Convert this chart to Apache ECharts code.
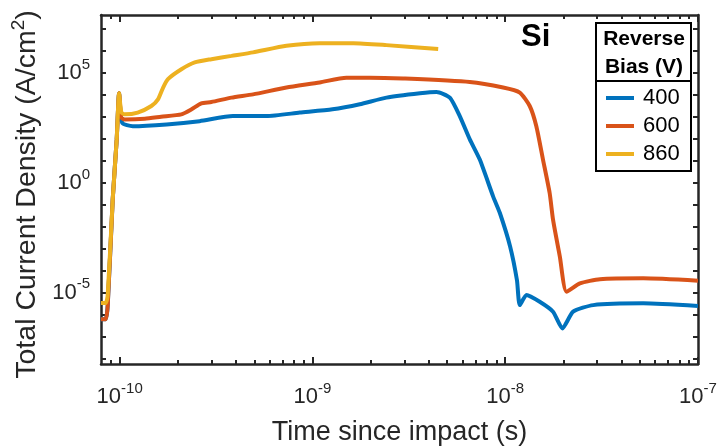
<!DOCTYPE html>
<html>
<head>
<meta charset="utf-8">
<script src="https://cdn.jsdelivr.net/npm/echarts@6/dist/echarts.min.js"></script>
<style>html,body{margin:0;padding:0;background:#fff}#c{width:717px;height:446px}</style>
</head>
<body>
<div id="c"></div>
<script>
// ---- data ----
const seriesNames = ['400', '600', '860'];
const seriesColors = ['#0072BD', '#D95319', '#EDB120'];

const t400 = [8.0e-11, 8.46e-11, 8.67e-11, 9.20e-11, 9.65e-11, 9.93e-11, 1.03e-10, 1.17e-10, 1.75e-10, 2.60e-10, 3.87e-10, 5.77e-10, 8.59e-10, 1.27e-9, 1.76e-9, 2.42e-9, 3.61e-9, 4.40e-9, 5.16e-9, 5.81e-9, 6.55e-9, 7.38e-9, 8.65e-9, 9.38e-9, 1.06e-8, 1.15e-8, 1.19e-8, 1.29e-8, 1.51e-8, 1.77e-8, 1.98e-8, 2.25e-8, 2.86e-8, 5.20e-8, 1e-7];
const j400 = [6.31e-7, 6.31e-7, 2.75e-6, 0.174, 95.5, 1.20e4, 550, 380, 457, 646, 1096, 1096, 1585, 2239, 3802, 7586, 1.20e4, 1.38e4, 7586, 1096, 95.5, 11.5, 0.245, 0.0427, 1.29e-3, 3.80e-5, 2.75e-6, 7.94e-6, 3.89e-6, 1.38e-6, 2.40e-7, 1.38e-6, 2.75e-6, 3.31e-6, 2.51e-6];

const t600 = [8.0e-11, 8.46e-11, 8.67e-11, 9.20e-11, 9.65e-11, 9.93e-11, 1.02e-10, 1.06e-10, 1.35e-10, 1.64e-10, 2.09e-10, 2.36e-10, 2.65e-10, 2.99e-10, 3.80e-10, 4.92e-10, 7.33e-10, 1.09e-9, 1.50e-9, 1.98e-9, 2.95e-9, 6.55e-9, 9.75e-9, 1.19e-8, 1.34e-8, 1.45e-8, 1.57e-8, 1.70e-8, 1.77e-8, 1.92e-8, 2.08e-8, 2.44e-8, 3.10e-8, 5.20e-8, 1e-7];
const j600 = [6.31e-7, 6.31e-7, 2.75e-6, 0.174, 95.5, 1.20e4, 933, 776, 832, 1023, 1318, 2239, 4169, 4786, 7586, 1.07e4, 2.19e4, 3.72e4, 6.17e4, 6.17e4, 5.62e4, 3.89e4, 2.19e4, 1.29e4, 3162, 380, 11.5, 0.347, 0.0214, 4.47e-4, 1.12e-5, 2.69e-5, 4.17e-5, 4.57e-5, 3.55e-5];

const t860 = [8.0e-11, 8.46e-11, 8.67e-11, 9.20e-11, 9.65e-11, 9.93e-11, 1.02e-10, 1.06e-10, 1.24e-10, 1.46e-10, 1.58e-10, 1.68e-10, 1.78e-10, 2.09e-10, 2.45e-10, 2.99e-10, 3.80e-10, 4.92e-10, 7.33e-10, 1.09e-9, 1.63e-9, 2.42e-9, 4.49e-9];
const j860 = [3.42e-6, 3.42e-6, 7.94e-6, 0.174, 95.5, 1.20e4, 1622, 1318, 1585, 3162, 6310, 2.19e4, 5.25e4, 1.48e5, 3.02e5, 4.27e5, 6.03e5, 8.71e5, 1.74e6, 2.29e6, 2.29e6, 1.86e6, 1.23e6];

// axis ticks
const xMajorTicks = [1e-10, 1e-9, 1e-8, 1e-7];
const xMinorTicks = [9e-11, 2e-10, 3e-10, 4e-10, 5e-10, 6e-10, 7e-10, 8e-10, 9e-10, 2e-9, 3e-9, 4e-9, 5e-9, 6e-9, 7e-9, 8e-9, 9e-9, 2e-8, 3e-8, 4e-8, 5e-8, 6e-8, 7e-8, 8e-8, 9e-8];
const yTicks = [1e-8, 1e-7, 1e-6, 1e-5, 1e-4, 1e-3, 1e-2, 1e-1, 1, 1e1, 1e2, 1e3, 1e4, 1e5, 1e6, 1e7];
const yLabelTicks = [1e-5, 1, 1e5];
const xMin = 8e-11, xMax = 1e-7;
const yMin = 5.75e-9, yMax = 4.37e7;

// ---- chart ----
const FONT = 'Liberation Sans, Arial, Helvetica, sans-serif';
const AX = '#262626';
const chart = echarts.init(document.getElementById('c'), null, {renderer: 'canvas'});

function pow10Label(v) {
  const e = Math.round(Math.log10(v));
  return '{b|10}{s|' + e + '}';
}
const labelRich = {
  b: {fontSize: 22, fontFamily: FONT, color: AX, lineHeight: 22, verticalAlign: 'bottom'},
  s: {fontSize: 15, fontFamily: FONT, color: AX, lineHeight: 15, verticalAlign: 'bottom', padding: [0, 0, 12, 0]}
};

function xAxisDef(pos, ticks, len, main) {
  return {
    type: 'log', position: pos, min: xMin, max: xMax, logBase: 10,
    gridIndex: 0,
    axisLine: {show: main, onZero: false, lineStyle: {color: AX, width: 2.5}},
    axisTick: {show: true, inside: true, length: len, customValues: ticks, lineStyle: {color: AX, width: 2}},
    minorTick: {show: false},
    splitLine: {show: false},
    axisLabel: (main && pos === 'bottom') ? {show: true, customValues: xMajorTicks, formatter: pow10Label, rich: labelRich, margin: 22} : {show: false},
    name: (main && pos === 'bottom') ? 'Time since impact (s)' : '',
    nameLocation: 'middle', nameGap: 55,
    nameTextStyle: {fontSize: 27, fontFamily: FONT, color: AX}
  };
}

const series = [[t400, j400], [t600, j600], [t860, j860]].map((p, i) => ({
  name: seriesNames[i],
  type: 'line',
  xAxisIndex: 0, yAxisIndex: 0,
  data: p[0].map((t, k) => [t, p[1][k]]),
  showSymbol: false,
  smooth: 0.2,
  lineStyle: {color: seriesColors[i], width: 4},
  itemStyle: {color: seriesColors[i]},
  animation: false,
  z: 2 + i
}));

chart.setOption({
  animation: false,
  backgroundColor: '#fff',
  grid: {left: 101, right: 19, top: 15, bottom: 82, containLabel: false, outerBoundsMode: 'none'},
  title: {text: 'Si', left: 521, top: 22, padding: 0, textStyle: {fontSize: 31, fontWeight: 'bold', fontFamily: FONT, color: '#000'}},
  legend: {
    data: seriesNames, orient: 'vertical', left: 606, top: 87, padding: 0,
    icon: 'rect', itemWidth: 28, itemHeight: 4, itemGap: 6,
    textStyle: {fontSize: 22, fontFamily: FONT, color: '#000', lineHeight: 22, padding: [0, 0, 0, 4]},
    selectedMode: false, z: 10
  },
  graphic: [
    {type: 'rect', z: 5, shape: {x: 596, y: 23, width: 95, height: 148}, style: {fill: '#fff', stroke: '#000', lineWidth: 2}},
    {type: 'line', z: 6, shape: {x1: 596, y1: 81, x2: 691, y2: 81}, style: {stroke: '#000', lineWidth: 2}},
    {type: 'text', z: 6, x: 644, y: 39, style: {text: 'Reverse', fontSize: 21, fontWeight: 'bold', fontFamily: FONT, fill: '#000', align: 'center', verticalAlign: 'middle'}},
    {type: 'text', z: 6, x: 644, y: 67, style: {text: 'Bias (V)', fontSize: 21, fontWeight: 'bold', fontFamily: FONT, fill: '#000', align: 'center', verticalAlign: 'middle'}}
  ],
  xAxis: [
    xAxisDef('bottom', xMajorTicks, 7, true),
    xAxisDef('bottom', xMinorTicks, 4, false),
    xAxisDef('top', xMajorTicks, 7, true),
    xAxisDef('top', xMinorTicks, 4, false)
  ],
  yAxis: [
    {
      type: 'log', position: 'left', min: yMin, max: yMax, logBase: 10,
      axisLine: {show: true, onZero: false, lineStyle: {color: AX, width: 2.5}},
      axisTick: {show: true, inside: true, length: 5, customValues: yTicks, lineStyle: {color: AX, width: 2}},
      splitLine: {show: false},
      axisLabel: {show: true, customValues: yLabelTicks, formatter: pow10Label, rich: labelRich, margin: 11},
      name: 'Total Current Density (A/cm{sup|2})',
      nameLocation: 'middle', nameGap: 46, nameRotate: 90,
      nameTextStyle: {fontSize: 28.5, fontFamily: FONT, color: AX, padding: [0, 10, 0, 0], rich: {sup: {fontSize: 19, fontFamily: FONT, color: AX, verticalAlign: 'bottom', padding: [0, 0, 16, 0]}}}
    },
    {
      type: 'log', position: 'right', min: yMin, max: yMax, logBase: 10,
      axisLine: {show: true, onZero: false, lineStyle: {color: AX, width: 2.5}},
      axisTick: {show: true, inside: true, length: 5, customValues: yTicks, lineStyle: {color: AX, width: 2}},
      splitLine: {show: false},
      axisLabel: {show: false}
    }
  ],
  series: series
});
</script>
</body>
</html>
